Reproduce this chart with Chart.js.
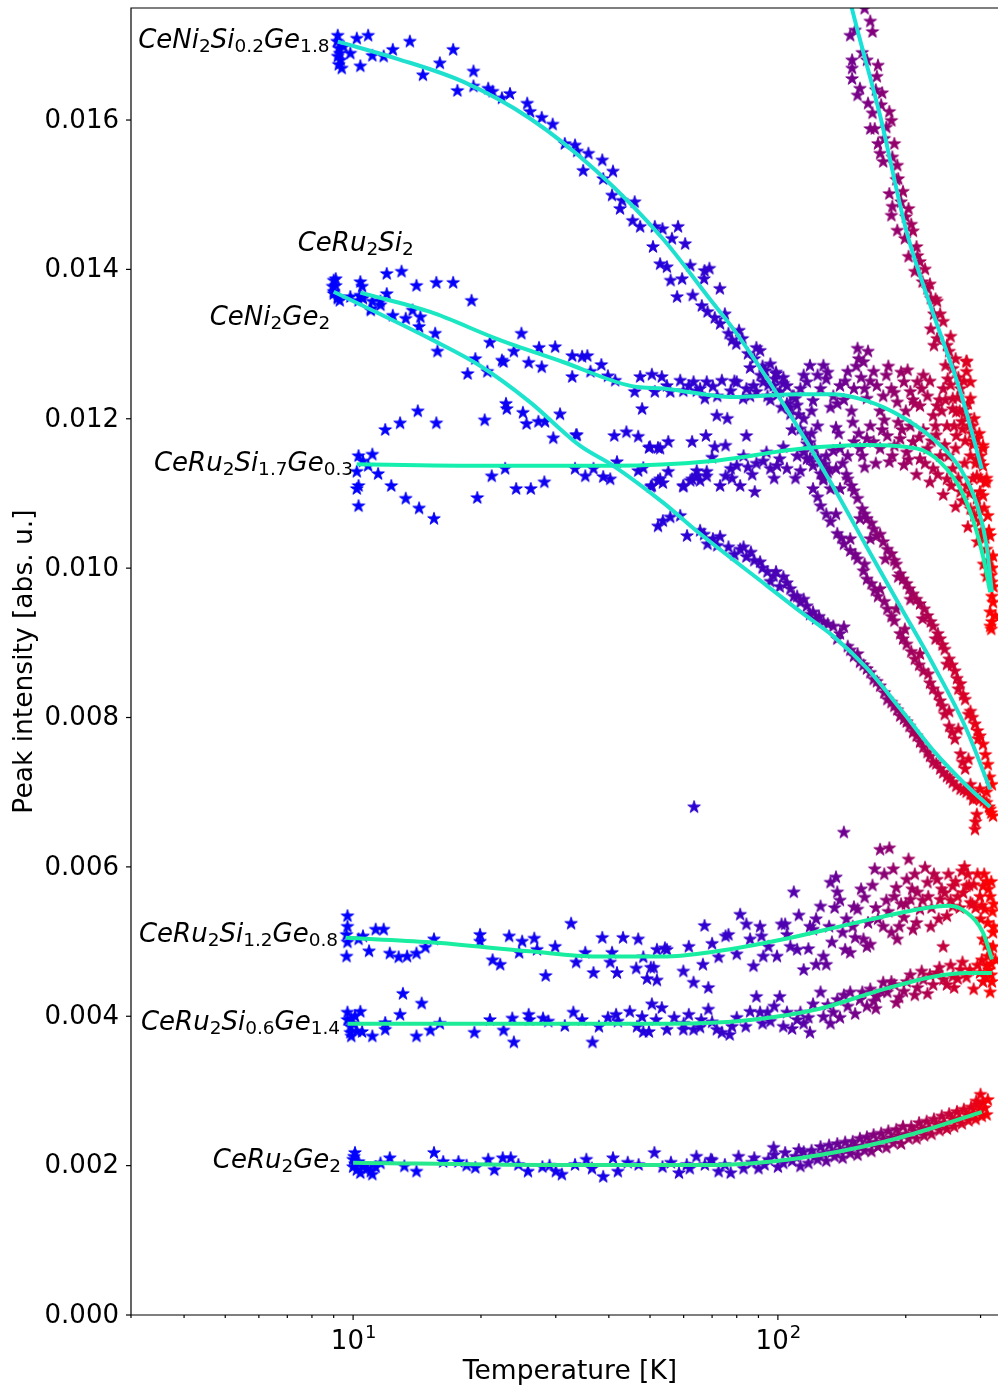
<!DOCTYPE html>
<html>
<head>
<meta charset="utf-8">
<script src="https://cdn.jsdelivr.net/npm/chart.js@4.4.0/dist/chart.umd.min.js"></script>
<style>
  html, body { margin: 0; padding: 0; background: #fff; overflow: hidden; }
  #wrap { position: relative; width: 1020px; height: 1389px; }
</style>
</head>
<body>
<div id="wrap"><canvas id="chart" width="1020" height="1389"></canvas></div>
<script>
// ---- measured peak intensity vs temperature, [T (K), intensity (abs. u.)] ----
const ceNi2Si02Ge18 = [
  [9.2,0.01713],[9.17,0.01705],[9.25,0.01696],[9.3,0.01689],[9.2,0.01685],[9.35,0.0168],[9.25,0.01674],[9.4,0.01669],
  [9.5,0.01698],[9.85,0.01689],[10.2,0.01709],[10.4,0.01672],[10.85,0.01713],[11.1,0.01686],[11.8,0.01685],[12.4,0.01694],
  [13.6,0.01705],[14.6,0.0166],[16.0,0.01676],[17.2,0.01694],[17.6,0.01639],[19.2,0.01665],[19.2,0.01645],[20.8,0.01642],
  [21.3,0.01638],[22.4,0.01629],[23.4,0.01635],[25.7,0.01622],[26.1,0.01611],[27.8,0.01603],[29.5,0.01594],[31.5,0.01568],
  [33.3,0.01566],[33.7,0.01558],[35.8,0.01555],[38.6,0.01546],[34.8,0.01532],[40.9,0.01531],[38.8,0.01521],[40.7,0.01499],
  [43,0.01492],[42.5,0.01481],[46,0.0149],[45.5,0.01465],[47.4,0.01457],[51.3,0.01457],[53.5,0.01454],[58.2,0.01457],
  [56.3,0.01441],[60.5,0.01434],[50.8,0.0143],[52.8,0.01407],[54.8,0.01403],[62.2,0.01405],[55.9,0.01385],[59.5,0.01387],
  [57.9,0.01363],[63,0.01365],[67.2,0.01398],[66.2,0.01351],[68.3,0.01343],[69,0.01401],[73,0.01374],[67,0.01387],
  [73.1,0.01327],[76.5,0.01314],[79.8,0.013],[82.5,0.01307],[85,0.01287],[88,0.0128],[90.8,0.01291],[93.4,0.01264],
  [96,0.01273],[98.5,0.01253],[100,0.01233],[103,0.01247],[105,0.0122],[107,0.01206],[110,0.01227],[113,0.01186],
  [115,0.012],[117,0.01166],[119,0.01146],[122,0.0116],[126,0.01126],[129,0.01139],[133,0.01106],[137,0.01133],[140,0.01106],
  [71,0.01335],[75,0.0134],[78,0.01305],[81,0.01318],[86,0.01268],[89,0.01295],[92,0.0127],[95,0.01245],[99,0.01262],
  [102,0.01215],[108,0.0123],[112,0.01205],[116,0.01178],[120,0.0118],[124,0.01148],[128,0.0112],[131,0.01128],
  [121,0.01106],[126,0.01083],[133,0.01062],[138,0.01046],[143,0.01032],[148,0.01023],[154,0.01012],[159,0.00996],
  [166,0.00979],[172,0.00962],[181,0.00945],[188,0.00929],[194,0.00912],[201,0.00898],[210,0.00878],[220,0.00862],
  [232,0.00838],[241,0.00822],[247,0.00804],[253,0.00788],[261,0.00771],[269,0.00751],[276,0.00731],[284,0.0071],
  [288,0.0069],[294,0.0067],[291,0.0065],[137,0.01072],[148,0.01039],[160,0.01005],[174,0.00972],[190,0.00945],
  [199,0.00918],[216,0.00885],[226,0.00858],[238,0.00831],[253,0.00808],[266,0.00784],[281,0.00744],[299,0.00704],
  [124,0.01095],[130,0.01072],[141,0.0104],[152,0.01018],[162,0.00985],[169,0.0097],[178,0.00955],[185,0.00935],
  [197,0.00905],[206,0.00888],[215,0.0087],[228,0.00846],[244,0.00815],[257,0.0078],[272,0.0074],[286,0.007],[292,0.0066],
  [146,0.01119],[151,0.01103],[154,0.01093],[158,0.01079],[162,0.01066],[168,0.01052],[171,0.01043],[177,0.01035],
  [185,0.01019],[190,0.01005],[194,0.00992],[201,0.00979],[208,0.00965],[216,0.00952],[225,0.00936],[232,0.00922],
  [241,0.00905],[247,0.00891],[253,0.00878],[261,0.00862],[269,0.00845],[276,0.00824],[284,0.00808],[291,0.00791],
  [299,0.00775],[304,0.00764],[312,0.00737],[319,0.0071],[156,0.01066],[165,0.01039],[179,0.01012],[192,0.00988],
  [205,0.00958],[219,0.00932],[235,0.00905],[250,0.00871],[266,0.00838],[281,0.00804],[296,0.00771],
  [149,0.0111],[160,0.01072],[166,0.0106],[174,0.01045],[181,0.01025],[188,0.0101],[197,0.00985],[204,0.00972],
  [212,0.00958],[221,0.00945],[229,0.00928],[238,0.00912],[244,0.00897],[257,0.0087],[264,0.00852],[273,0.0083],
  [287,0.008],[295,0.00782],[308,0.0075],[315,0.0072]
];
const ceNi2Si02Ge18Fit = [
  [9.2,0.01705],[12.7,0.01682],[18.2,0.01651],[26.1,0.01602],[37.5,0.01531],[53.6,0.01441],[69,0.01361],
  [78.6,0.0132],[103,0.0122],[135,0.01109],[162,0.01028],[194,0.00949],[232,0.00871],[278,0.00784],[316,0.00704]
];

// sample whose low-temperature branch lies above the plotted range
const sample8 = [
  [160,0.01749],[165,0.01732],[167,0.01718],[148,0.01713],[149.5,0.0168],[149.5,0.01669],[172,0.01673],[171,0.01658],
  [149.5,0.01655],[156,0.01642],[154,0.01633],[176,0.01636],[163,0.01622],[167,0.01609],[183,0.01611],[185,0.01599],
  [165,0.01588],[169,0.01588],[172,0.01568],[188,0.01568],[174,0.01555],[177,0.01544],[191,0.01539],[192,0.01521],
  [183,0.01501],[197,0.01504],[186,0.01484],[203,0.01481],[185,0.01472],[191,0.01452],[199,0.01441],[208,0.01451],
  [203,0.01417],[213,0.01418],[210,0.01397],[219,0.01383],[225,0.01374],[229,0.01361],[237,0.01357],[233,0.0134],
  [241,0.0134],[229,0.0132],[237,0.01307],[233,0.01298],[250,0.01298],[253,0.0129],[248,0.01271],[258,0.01267],
  [278,0.01277],[278,0.01263],[284,0.01249],[251,0.01253],[269,0.0124],[284,0.01227],[258,0.01227],[278,0.01204],
  [263,0.01209],[287,0.0119],[272,0.01186],[294,0.01173],[304,0.0116],[294,0.01146],[304,0.01137],[307,0.01115],
  [299,0.01102],[304,0.01164],
  [152,0.0172],[158,0.0169],[162,0.0168],[170,0.0164],[175,0.0162],[180,0.0159],[178,0.01575],[186,0.0155],
  [190,0.0152],[195,0.0149],[200,0.0147],[206,0.0146],[212,0.0143],[216,0.0141],[222,0.014],[228,0.0138],
  [235,0.0136],[245,0.0133],[255,0.0131],[262,0.0128],[266,0.01255],[274,0.0125],[280,0.0122],[290,0.012],
  [298,0.0118],[288,0.01165],[300,0.0115],[310,0.0112]
];
const sample8Fit = [
  [140,0.0182],[149,0.01752],[174,0.01606],[201,0.0145],[233,0.01338],[269,0.01236],[302,0.01133]
];

const ceRu2Si2 = [
  [9.1,0.01387],[9.1,0.01378],[9.0,0.0137],[9.2,0.01363],[9.3,0.01358],[10.4,0.01383],[10.5,0.01377],[10.4,0.01365],
  [10.55,0.01361],[11.1,0.01357],[11.0,0.01347],[11.6,0.01357],[12.0,0.01367],[12.0,0.01394],[13.0,0.01397],[14.1,0.01378],
  [15.7,0.01382],[17.2,0.01382],[19.0,0.01358],[21.0,0.01302],[24.9,0.01314],[23.9,0.0129],[22.6,0.01276],[25.9,0.01275],
  [27.8,0.01269],[27.4,0.01295],[29.9,0.01296],[32.8,0.01284],[32.8,0.01256],[34.6,0.01283],[35.6,0.01284],[36.2,0.01263],
  [38.4,0.01272],[39.8,0.01257],[41.4,0.01251],[46,0.01236],[47.4,0.01256],[47.9,0.01213],[50.5,0.01259],[51.3,0.01236],
  [53.3,0.01256],[54.8,0.01244],[55.8,0.01236],[58.9,0.01251],[59.9,0.01237],[61.7,0.01244],[63.3,0.01249],[64.4,0.01237],
  [67.3,0.01227],[65.6,0.0124],[68,0.01249],[70.3,0.01243],[71.8,0.01204],[73.8,0.01251],[76,0.012],[77.4,0.01237],
  [80,0.01249],[82.8,0.01227],[84.3,0.0124],[87.6,0.01244],[89,0.01236],[92.4,0.01249],[94.5,0.0123],[97.7,0.01244],
  [101,0.01236],[105,0.01244],[109,0.0123],[113,0.0124],[117,0.01249],[121,0.01224],[126,0.0124],[119,0.01271],
  [128,0.01271],[130,0.01253],[135,0.0123],[140,0.01244],[146,0.01263],[151,0.0124],[154,0.01294],[155,0.0128],
  [159,0.01276],[162,0.01227],[168,0.01263],[171,0.01244],[177,0.0123],[185,0.0124],[191,0.01222],[198,0.01249],
  [205,0.01236],[213,0.01249],[216,0.01217],[225,0.0123],[232,0.01204],[237,0.01217],[245,0.0124],[250,0.0119],
  [258,0.01213],[263,0.01177],[271,0.01196],[278,0.01276],[284,0.0115],[289,0.01169],[294,0.01123],[299,0.01142],
  [304,0.01097],[310,0.01115],[312,0.0107],[316,0.01043],[321,0.01016],[310,0.00989],[319,0.00962],[325,0.00936],
  [316,0.00922],[318,0.00918],[103,0.01255],[111,0.01218],[124,0.01258],[133,0.01215],[143,0.01225],[157,0.01255],
  [165,0.0125],[180,0.01258],[195,0.01262],[208,0.01225],[220,0.01258],[240,0.01225],[255,0.01245],[265,0.01228],
  [275,0.01212],[282,0.0119],
  [72,0.0123],[79,0.0125],[86,0.0123],[91,0.01258],[96,0.01225],[99,0.0126],[107,0.01215],[115,0.01258],[120,0.0121],
  [131,0.01262],[138,0.0122],[144,0.0125],[149,0.0121],[153,0.0127],[160,0.0124],[163,0.0129],[174,0.0121],[182,0.0127],
  [188,0.01235],[200,0.0121],[202,0.01265],[210,0.0122],[218,0.0124],[228,0.0125],[235,0.0119],[243,0.0121],[248,0.01225],
  [260,0.0119],[268,0.0121],[276,0.0117],[286,0.0118],[292,0.0114],[300,0.0112],[306,0.0108],[314,0.0105],[320,0.01],
  [322,0.00975]
];
const ceRu2Si2Fit = [
  [10.4,0.01369],[15.2,0.01343],[21.8,0.01307],[31.2,0.01276],[45,0.01244],[54.8,0.0124],[78.6,0.01229],[113,0.01233],
  [135,0.01233],[162,0.01224],[194,0.01204],[232,0.01173],[269,0.01133],[295,0.01083],[310,0.0103],[319,0.00968]
];

const ceNi2Ge2 = [
  [9.0,0.01385],[8.95,0.01377],[9.0,0.01367],[9.2,0.01361],[9.85,0.01363],[10.3,0.01358],[10.45,0.01363],[11,0.01345],
  [11.6,0.01352],[12.4,0.01338],[13.3,0.01334],[13.8,0.01345],[14.4,0.01336],[14.3,0.01323],[15.6,0.01314],[15.8,0.0129],
  [18.6,0.0126],[19.4,0.0128],[20.7,0.01263],[22.4,0.01278],[22.9,0.0122],[23,0.01213],[25.1,0.01208],[25.6,0.01193],
  [27.3,0.01196],[28.3,0.01196],[29.6,0.01174],[30.7,0.01206],[33.6,0.01178],
  [52.2,0.01056],[53.6,0.01063],[55.8,0.01068],[58.9,0.0107],[61.1,0.01043],[65.6,0.0105],[68.3,0.01032],[70.3,0.01039],
  [73.1,0.01042],[76.5,0.01028],[81.5,0.01025],[84.3,0.01015],[86.4,0.01021],[90.8,0.01008],[94.5,0.00995],[97.7,0.00989],
  [103,0.00988],[101,0.00975],[107,0.00972],[109,0.00962],[113,0.00954],[117,0.00949],[121,0.00941],[123,0.00932],
  [128,0.00928],[135,0.00922],[143,0.00921],[138,0.00905],[146,0.00895],[151,0.00882],[156,0.00874],[162,0.00865],
  [168,0.00851],[174,0.00842],[181,0.00824],[188,0.00815],[194,0.00802],[201,0.00794],[208,0.0078],[216,0.00767],
  [225,0.00753],[232,0.0074],[241,0.00731],[250,0.00721],[258,0.00713],[269,0.00704],[278,0.007],[289,0.00694],
  [299,0.0069],[310,0.00686],[316,0.00677],[321,0.00668],[310,0.007],
  [67,0.01045],[72,0.0103],[79,0.01018],[83,0.01028],[88,0.0101],[92,0.01],[96,0.00982],[99,0.00995],[105,0.0098],
  [111,0.00962],[115,0.00958],[119,0.00938],[125,0.00935],[131,0.00925],[140,0.00912],[148,0.0089],[154,0.00885],
  [159,0.0087],[165,0.0086],[171,0.00848],[178,0.00833],[185,0.0082],[191,0.0081],[198,0.00798],[204,0.00788],
  [212,0.00775],[220,0.0076],[228,0.00748],[236,0.00738],[245,0.00726],[254,0.00718],[263,0.00708],[274,0.00703],
  [284,0.00697],[294,0.00692],[305,0.00688],[314,0.0068],[318,0.00672]
];
const ceNi2Ge2Fit = [
  [9.0,0.0137],[11.6,0.0134],[15.2,0.01307],[19.9,0.01271],[26,0.01223],[34.2,0.01164],[41,0.01137],[53.6,0.01088],
  [65.6,0.01046],[94.5,0.00976],[112.8,0.00942],[135,0.00909],[162,0.00866],[194,0.00812],[232,0.00756],[278,0.00709],
  [316,0.0068]
];

const ceRu2Si17Ge03 = [
  [10.3,0.0115],[10.55,0.01143],[11.1,0.01152],[10.85,0.01137],[10.2,0.01129],[10.3,0.0111],[10.2,0.01106],[10.3,0.01083],
  [11.45,0.01126],[12.3,0.0111],[13.3,0.01093],[14.3,0.0108],[15.5,0.01066],[11.9,0.01185],[12.9,0.01194],[14.2,0.0121],
  [15.7,0.01194],[19.6,0.01094],[20.4,0.01198],[21.2,0.01123],[22.8,0.01133],[24.2,0.01106],[26.2,0.01106],[28.2,0.01115],
  [33.5,0.01178],[33.3,0.01133],[35.2,0.01123],[36.8,0.01133],[38.8,0.01122],[40.3,0.01119],[41.2,0.01177],[41.8,0.01142],
  [44,0.01182],[46.9,0.01176],[46.9,0.0113],[48.2,0.01134],[49.7,0.01161],[50.2,0.01109],[52.2,0.01161],[52.8,0.01119],
  [53.6,0.01114],[55.2,0.01169],[55.2,0.01129],[59.9,0.01109],[62.8,0.01169],[62.8,0.01119],[64.4,0.0113],[65.6,0.01117],
  [67.7,0.01177],[68,0.01129],[50,0.01162],[52.8,0.0116],[71,0.01162],[75.3,0.01164],[84.3,0.01177],[50.5,0.0111],
  [52.2,0.01117],[59.9,0.0111],[62.2,0.01117],[64.4,0.01123],[68,0.01123],[73.1,0.0111],[75.3,0.01123],[77.4,0.01133],
  [80,0.01137],[81.5,0.0111],[85,0.01135],[88.2,0.01102],[89,0.0114],[92.4,0.01143],[96,0.01133],[99.5,0.01137],
  [101,0.01146],[105,0.01133],[111,0.0115],[115,0.01155],[117,0.01146],[121,0.01137],[126,0.01142],[130,0.0115],
  [135,0.01157],[140,0.0116],[146,0.0115],[151,0.01169],[156,0.0116],[162,0.01173],[168,0.01169],[174,0.0116],
  [181,0.01177],[188,0.01164],[194,0.01173],[201,0.01155],[208,0.01169],[216,0.01146],[225,0.0116],[232,0.01133],
  [241,0.0115],[250,0.01119],[258,0.01133],[269,0.01102],[278,0.0111],[284,0.01079],[294,0.01093],[299,0.01062],
  [304,0.01043],[310,0.01025],[312,0.00999],[319,0.00981],[321,0.00954],[316,0.00941],[319,0.00928],
  [108,0.01185],[124,0.0119],[137,0.01188],[150,0.01195],[165,0.0119],[178,0.01198],[192,0.01195],[205,0.0119],
  [220,0.01185],[236,0.01178],[247,0.01165],[262,0.0116],[275,0.0114],[288,0.0112],[110,0.0112],[128,0.01118],
  [145,0.01125],[160,0.01135],[183,0.01142],[198,0.01138],[212,0.01125],[228,0.01115],[245,0.01098],[262,0.01082],
  [280,0.01055],[295,0.01035],[305,0.01005],
  [70,0.01148],[78,0.0112],[83,0.0115],[87,0.01125],[94,0.01155],[98,0.0112],[103,0.01162],[113,0.0113],[119,0.01168],
  [132,0.01132],[139,0.0118],[142,0.0114],[155,0.0118],[158,0.0115],[170,0.0114],[176,0.01185],[186,0.0115],[196,0.01185],
  [203,0.01145],[215,0.01175],[222,0.0114],[230,0.0117],[238,0.01125],[252,0.0115],[256,0.0111],[266,0.0112],[272,0.0109],
  [283,0.011],[290,0.0107],[298,0.0108],[302,0.0105],[308,0.0104],[314,0.0101],[318,0.0099]
];
const ceRu2Si17Ge03Fit = [
  [10.2,0.01139],[22,0.01137],[41,0.01137],[69,0.01143],[113,0.0116],[162,0.01165],[213,0.0116],[241,0.01142],
  [269,0.01106],[289,0.01062],[304,0.01016],[316,0.00968]
];

const ceRu2Si12Ge08 = [
  [9.7,0.00534],[9.7,0.0052],[9.65,0.00509],[9.7,0.00499],[9.65,0.0048],[10.3,0.00503],[10.55,0.00507],[10.9,0.00487],
  [11.3,0.00516],[11.8,0.00516],[12.2,0.00484],[12.8,0.00479],[13.4,0.0048],[14.1,0.00484],[14.8,0.00492],[15.5,0.00503],
  [19.9,0.00509],[19.9,0.005],[21.3,0.00475],[22.2,0.00469],[23.3,0.00507],[24.6,0.00485],[25,0.005],[26.7,0.00504],
  [27.1,0.00489],[28.4,0.00454],[29.9,0.00493],[32.6,0.00524],[33.5,0.00472],[35.2,0.00485],[36.8,0.00458],[38.6,0.00505],
  [40.3,0.00472],[40.7,0.00485],[41.8,0.00458],[43.2,0.00505],[46.4,0.00464],[46.9,0.00503],[48.2,0.00479],[49.2,0.0045],
  [50.2,0.00465],[51.9,0.00448],[51.9,0.00489],[54.2,0.00491],[54.8,0.00489],[51,0.00465],[59.9,0.0046],[63.3,0.00445],
  [61.7,0.00493],[66.6,0.00469],[67.2,0.00521],[68.6,0.00438],[70,0.00497],[72.5,0.00479],[75.3,0.00507],[76.5,0.00509],
  [80,0.00483],[81.5,0.00536],[84.3,0.00523],[86,0.00503],[87.6,0.00467],[90.8,0.0052],[91.5,0.00507],[92.4,0.0048],
  [95,0.00493],[99.5,0.0048],[102,0.00523],[104,0.00523],[105,0.00509],[109,0.00566],[107,0.00493],[111,0.00489],
  [115,0.00462],[119,0.0052],[121,0.00516],[123,0.0053],[126,0.00547],[123,0.00469],[128,0.0048],[130,0.00469],
  [134,0.00499],[133,0.00579],[137,0.00586],[138,0.00566],[142,0.00512],[144,0.00489],[148,0.00485],[151,0.00546],
  [154,0.00543],[159,0.00503],[160,0.00559],[162,0.00493],[165,0.00496],[169,0.00597],[174,0.00623],[183,0.00625],
  [177,0.0052],[185,0.00512],[187,0.00597],[190,0.00572],[191,0.00503],[198,0.00532],[201,0.00583],[205,0.00556],
  [208,0.00516],[213,0.00566],[216,0.00543],[222,0.00599],[225,0.00579],[229,0.0052],[237,0.00583],[241,0.00556],
  [245,0.00493],[250,0.00534],[258,0.00574],[258,0.00547],[271,0.00594],[275,0.006],[278,0.00574],[284,0.00552],
  [289,0.00576],[299,0.0056],[304,0.00574],[307,0.00543],[312,0.00525],[316,0.0056],[321,0.00512],[304,0.00503],
  [316,0.00489],[325,0.00476],[63.5,0.0068],[143,0.00646],[150,0.0052],[170,0.00545],[180,0.00555],[195,0.0055],
  [210,0.0059],[230,0.00545],[247,0.00565],[265,0.0056],[280,0.0059],[292,0.00545],[300,0.0053],[310,0.0058],[320,0.0054],
  [112,0.00535],[118,0.0049],[132,0.0052],[136,0.00545],[140,0.00555],[145,0.0053],[152,0.00505],[157,0.0057],
  [163,0.00525],[167,0.00575],[172,0.0053],[178,0.0059],[182,0.0054],[188,0.0056],[193,0.0052],[200,0.0055],
  [203,0.0061],[207,0.0057],[212,0.00525],[219,0.00555],[226,0.0056],[233,0.0059],[239,0.0053],[243,0.0057],
  [252,0.0059],[255,0.00555],[262,0.0058],[268,0.00545],[273,0.00565],[282,0.00575],[287,0.0055],[295,0.0059],
  [302,0.00548],[306,0.0059],[313,0.0057],[318,0.0058],[322,0.0055],[310,0.00495],[318,0.0047],[322,0.0052]
];
const ceRu2Si12Ge08Fit = [
  [9.6,0.00505],[15.2,0.00499],[26,0.00487],[37.5,0.0048],[53.6,0.0048],[71.8,0.00487],[103,0.00503],[147,0.00523],
  [213,0.00543],[253,0.00548],[278,0.00539],[304,0.00512],[319,0.00476]
];

const ceRu2Si06Ge14 = [
  [9.7,0.00405],[9.7,0.00395],[9.85,0.00386],[9.85,0.00378],[9.9,0.00373],[10.4,0.00406],[10.5,0.00379],[11.1,0.00373],
  [11.9,0.00391],[11.9,0.00382],[12.9,0.00402],[13.1,0.0043],[14.1,0.00373],[14.5,0.00417],[15.2,0.00381],[16,0.0039],
  [19.3,0.00378],[21,0.00395],[22.6,0.00381],[23.7,0.00397],[23.9,0.00365],[25.9,0.00402],[26,0.00395],[28,0.00397],
  [28.8,0.00393],[31.5,0.00387],[33,0.00405],[34.6,0.00395],[36.6,0.00365],[37.9,0.00386],[39.8,0.00398],[41.6,0.00402],
  [42,0.00393],[44.8,0.00406],[46.6,0.00386],[47.9,0.00399],[48.2,0.00379],[49.7,0.00379],[50.5,0.00416],[51.7,0.00395],
  [53.3,0.00411],[57,0.00398],[54.8,0.00382],[59.9,0.00382],[61.7,0.00402],[63.3,0.00382],[65.6,0.00385],[68.6,0.00409],
  [71.8,0.00382],[73.8,0.00378],[77,0.00375],[78,0.00386],[86,0.00406],[89,0.00426],[84,0.00386],[90.8,0.00405],
  [94.5,0.00405],[96,0.00393],[101,0.00426],[105,0.00405],[103,0.00386],[111,0.00395],[119,0.00378],[121,0.00416],
  [126,0.00432],[128,0.00399],[135,0.00405],[138,0.00422],[146,0.00413],[148,0.00432],[156,0.00422],[162,0.00413],
  [165,0.00436],[171,0.00426],[177,0.00445],[181,0.00432],[188,0.00442],[198,0.00433],[201,0.00446],[213,0.00438],
  [220,0.00449],[232,0.00442],[237,0.00458],[245,0.00449],[258,0.00453],[269,0.00462],[278,0.00452],[289,0.00436],
  [299,0.00458],[310,0.00467],[316,0.00432],[304,0.00446],[319,0.00446],[312,0.0048],[321,0.00493],
  [115,0.0039],[140,0.00398],[170,0.0041],[190,0.00418],[225,0.0043],[260,0.00438],
  [10,0.0039],[10.1,0.004],[10.2,0.0038],[9.9,0.00396],[60,0.0039],[66,0.00395],[70,0.00392],[80,0.00398],[92,0.0039],
  [98,0.00413],[108,0.00383],[113,0.00405],[118,0.00398],[131,0.00415],[133,0.0039],[143,0.00428],[152,0.00403],
  [158,0.00432],[168,0.0042],[175,0.00433],[185,0.00446],[193,0.00425],[205,0.00455],[210,0.00428],[218,0.0046],
  [228,0.00455],[240,0.00465],[250,0.00442],[255,0.00468],[265,0.0045],[272,0.00472],[283,0.00462],[295,0.00468],
  [302,0.00475],[308,0.00452],[314,0.00462],[318,0.00455]
];
const ceRu2Si06Ge14Fit = [
  [9.7,0.0039],[55.8,0.0039],[86,0.00395],[123,0.00409],[177,0.00436],[232,0.00453],[278,0.00458],[319,0.00458]
];

const ceRu2Ge2 = [
  [10.1,0.00217],[10,0.00208],[10,0.00198],[10.2,0.00194],[10.55,0.00198],[11,0.00192],[11.3,0.00198],[11.1,0.00188],
  [12.2,0.0021],[14.1,0.00192],[15.5,0.00217],[16.3,0.00205],[17.7,0.00205],[19.4,0.00197],[20.8,0.00208],[21.5,0.00194],
  [22.5,0.0021],[23.5,0.0021],[25.8,0.00192],[27.9,0.00198],[30,0.00192],[31,0.00188],[33.3,0.00201],[35.4,0.00208],
  [38.8,0.00185],[40.9,0.0021],[42,0.00192],[44.3,0.00204],[51.2,0.00217],[56,0.00204],[58.5,0.0019],[64.3,0.00212],
  [67.3,0.00201],[72.5,0.00192],[77.4,0.0019],[80.8,0.00212],[86.8,0.00204],[97.7,0.00224],[104,0.00217],[112,0.00221],
  [90,0.00196],[95,0.00208],[100,0.00198],[108,0.00206],[115,0.00218],[118,0.00203],[122,0.00212],[126,0.00225],
  [130,0.00206],[134,0.00218],[138,0.00229],[142,0.0021],[146,0.00222],[150,0.00232],[154,0.00214],[158,0.00226],
  [162,0.00238],[166,0.00219],[170,0.00231],[175,0.00243],[180,0.00224],[185,0.00237],[190,0.00248],[195,0.00229],
  [200,0.00242],[206,0.00252],[212,0.00236],[218,0.00249],[224,0.00259],[230,0.00242],[236,0.00255],[243,0.00266],
  [250,0.00249],[257,0.00262],[264,0.00272],[271,0.00256],[278,0.00268],[285,0.00278],[292,0.00262],[298,0.00274],
  [304,0.00284],[310,0.00268],[293,0.00286],
  [10.05,0.00212],[10.1,0.00202],[10.3,0.00205],[10.4,0.0019],[10.8,0.00196],[11.6,0.00203],[13.2,0.00199],[18.5,0.002],
  [24.5,0.00201],[29,0.002],[36.5,0.00196],[47,0.00201],[53.5,0.00198],[61,0.00201],[69.5,0.00208],[75,0.00201],
  [62,0.00196],[70,0.00207],[83,0.00196],[88,0.0021],[93,0.00201],[98,0.00214],[103,0.00203],[110,0.00212],[113,0.00199],
  [120,0.0022],[124,0.00208],[128,0.00216],[132,0.00227],[136,0.00212],[140,0.0022],[144,0.00231],[148,0.00216],
  [152,0.00225],[156,0.00236],[160,0.0022],[164,0.0023],[168,0.00241],[172,0.00225],[177,0.00235],[182,0.00246],
  [187,0.0023],[192,0.0024],[197,0.00252],[203,0.00236],[209,0.00246],[215,0.00257],[221,0.0024],[227,0.0025],
  [233,0.00262],[240,0.00247],[246,0.00257],[253,0.00269],[260,0.00252],[267,0.00263],[274,0.00275],[281,0.0026],
  [288,0.0027],[295,0.00281],[302,0.00266],[307,0.00277],[312,0.00288],[300,0.00295]
];
const ceRu2Ge2Fit = [
  [10,0.00204],[27.9,0.00201],[70.3,0.00201],[112,0.0021],[178,0.00232],[224,0.00248],[302,0.00272]
];

// axis ticks
const yTicks = [0, 0.002, 0.004, 0.006, 0.008, 0.010, 0.012, 0.014, 0.016];
const yTickLabels = ['0.000','0.002','0.004','0.006','0.008','0.010','0.012','0.014','0.016'];
const xMajorTicks = [10, 100];
const xMajorExponents = ['1', '2'];
const xMinorTicks = [3,4,5,6,7,8,9,20,30,40,50,60,70,80,90,200,300];

// sample names placed beside their curves: [formula, T, intensity, alignment]
const sampleNames = [
  ['CeNi_{2}Si_{0.2}Ge_{1.8}', 8.8, 0.01696, 'right'],
  ['CeRu_{2}Si_{2}', 10.14, 0.01425, 'center'],
  ['CeNi_{2}Ge_{2}', 8.83, 0.01326, 'right'],
  ['CeRu_{2}Si_{1.7}Ge_{0.3}', 10.0, 0.0113, 'right'],
  ['CeRu_{2}Si_{1.2}Ge_{0.8}', 9.22, 0.0050, 'right'],
  ['CeRu_{2}Si_{0.6}Ge_{1.4}', 9.32, 0.00382, 'right'],
  ['CeRu_{2}Ge_{2}', 9.37, 0.00197, 'right']
];

// ---- styling ----
const FONT = '"DejaVu Sans", "Liberation Sans", sans-serif';
const COLOR_T_MIN = 9, COLOR_T_MAX = 320;
const STAR_R = 6.6;

function toXY(arr) { return arr.map(p => ({ x: p[0], y: p[1] })); }

// blue -> red by temperature
function tempColor(t) {
  let f = (t - COLOR_T_MIN) / (COLOR_T_MAX - COLOR_T_MIN);
  f = Math.max(0, Math.min(1, f));
  f = Math.round(f * 120) / 120;
  return 'rgb(' + Math.round(255 * f) + ',0,' + Math.round(255 * (1 - f)) + ')';
}

const starCache = {};
function starSprite(color) {
  if (starCache[color]) return starCache[color];
  const s = 18, c = document.createElement('canvas');
  c.width = s; c.height = s;
  const g = c.getContext('2d');
  g.beginPath();
  for (let i = 0; i < 10; i++) {
    const a = -Math.PI / 2 + i * Math.PI / 5;
    const r = i % 2 ? STAR_R * 0.382 : STAR_R;
    const px = s / 2 + r * Math.cos(a), py = s / 2 + r * Math.sin(a);
    if (i === 0) g.moveTo(px, py); else g.lineTo(px, py);
  }
  g.closePath();
  g.fillStyle = color; g.fill();
  g.strokeStyle = color; g.lineWidth = 1; g.lineJoin = 'miter'; g.stroke();
  starCache[color] = c;
  return c;
}

function scatterSet(arr) {
  return {
    type: 'scatter',
    data: toXY(arr),
    order: 1,
    clip: 0,
    pointRadius: 6,
    pointStyle: ctx => starSprite(tempColor(ctx.raw ? ctx.raw.x : COLOR_T_MIN))
  };
}
function fitSet(arr, color) {
  return {
    type: 'line',
    data: toXY(arr),
    order: 0,
    clip: 0,
    borderColor: color,
    borderWidth: 4,
    pointRadius: 0,
    fill: false,
    cubicInterpolationMode: 'monotone',
    borderCapStyle: 'butt'
  };
}

function drawFormula(ctx, src, x, y, align) {
  const parts = [];
  const re = /_\{([^}]*)\}/g;
  let last = 0, m;
  while ((m = re.exec(src))) {
    if (m.index > last) parts.push({ t: src.slice(last, m.index), sub: false });
    parts.push({ t: m[1], sub: true });
    last = re.lastIndex;
  }
  if (last < src.length) parts.push({ t: src.slice(last), sub: false });
  const mainFont = 'italic 26px ' + FONT, subFont = '18.5px ' + FONT;
  let w = 0;
  parts.forEach(p => { ctx.font = p.sub ? subFont : mainFont; p.w = ctx.measureText(p.t).width; w += p.w; });
  let cx = align === 'right' ? x - w : align === 'center' ? x - w / 2 : x;
  ctx.textAlign = 'left';
  ctx.textBaseline = 'alphabetic';
  parts.forEach(p => {
    ctx.font = p.sub ? subFont : mainFont;
    ctx.fillText(p.t, cx, p.sub ? y + 4 : y);
    cx += p.w;
  });
}

const frame = {
  id: 'frame',
  afterDatasetsDraw(chart) {
    const { ctx, chartArea: a, scales: { x, y } } = chart;
    ctx.save();
    ctx.fillStyle = '#000';
    ctx.strokeStyle = '#000';
    ctx.lineWidth = 1.2;
    ctx.beginPath();
    ctx.rect(a.left, a.top, a.right - a.left, a.bottom - a.top);
    ctx.stroke();

    // y ticks + labels
    ctx.font = '26px ' + FONT;
    ctx.textAlign = 'right';
    ctx.textBaseline = 'middle';
    yTicks.forEach((v, i) => {
      const py = y.getPixelForValue(v);
      ctx.beginPath(); ctx.moveTo(a.left, py); ctx.lineTo(a.left - 5, py); ctx.stroke();
      ctx.fillText(yTickLabels[i], a.left - 12, py + 1);
    });

    // x ticks
    xMinorTicks.forEach(v => {
      const px = x.getPixelForValue(v);
      ctx.beginPath(); ctx.moveTo(px, a.bottom); ctx.lineTo(px, a.bottom + 3); ctx.stroke();
    });
    xMajorTicks.forEach((v, i) => {
      const px = x.getPixelForValue(v);
      ctx.beginPath(); ctx.moveTo(px, a.bottom); ctx.lineTo(px, a.bottom + 5); ctx.stroke();
      ctx.textAlign = 'left'; ctx.textBaseline = 'alphabetic';
      ctx.font = '26px ' + FONT;
      const wb = ctx.measureText('10').width;
      ctx.font = '18px ' + FONT;
      const we = ctx.measureText(xMajorExponents[i]).width;
      const x0 = px - (wb + we) / 2;
      const base = a.bottom + 34;
      ctx.font = '26px ' + FONT;
      ctx.fillText('10', x0, base);
      ctx.font = '18px ' + FONT;
      ctx.fillText(xMajorExponents[i], x0 + wb + 1, base - 11);
    });

    // axis titles
    ctx.font = '26.5px ' + FONT;
    ctx.textAlign = 'center';
    ctx.textBaseline = 'alphabetic';
    ctx.fillText('Temperature [K]', (a.left + a.right) / 2, a.bottom + 64);
    ctx.save();
    ctx.translate(32, (a.top + a.bottom) / 2);
    ctx.rotate(-Math.PI / 2);
    ctx.fillText('Peak intensity [abs. u.]', 0, 0);
    ctx.restore();

    // sample names
    ctx.fillStyle = '#000';
    sampleNames.forEach(n => {
      drawFormula(ctx, n[0], x.getPixelForValue(n[1]), y.getPixelForValue(n[2]), n[3]);
    });
    ctx.restore();
  }
};

new Chart(document.getElementById('chart'), {
  type: 'scatter',
  data: {
    datasets: [
      scatterSet(ceRu2Ge2),
      scatterSet(ceRu2Si06Ge14),
      scatterSet(ceRu2Si12Ge08),
      scatterSet(ceNi2Ge2),
      scatterSet(ceNi2Si02Ge18),
      scatterSet(ceRu2Si17Ge03),
      scatterSet(ceRu2Si2),
      scatterSet(sample8),
      fitSet(ceNi2Si02Ge18Fit, '#1fe0cf'),
      fitSet(sample8Fit, '#16e2da'),
      fitSet(ceRu2Si2Fit, '#1be7c2'),
      fitSet(ceNi2Ge2Fit, '#1ee3cd'),
      fitSet(ceRu2Si17Ge03Fit, '#14efae'),
      fitSet(ceRu2Si12Ge08Fit, '#19ed9f'),
      fitSet(ceRu2Si06Ge14Fit, '#1deb98'),
      fitSet(ceRu2Ge2Fit, '#28e88e')
    ]
  },
  options: {
    responsive: false,
    animation: false,
    devicePixelRatio: 1,
    layout: { padding: { left: 131, top: 8, right: 11, bottom: 74 } },
    plugins: { legend: { display: false }, tooltip: { enabled: false } },
    events: [],
    scales: {
      x: { type: 'logarithmic', min: 3, max: 350, display: false },
      y: { type: 'linear', min: 0, max: 0.0175, display: false }
    }
  },
  plugins: [frame]
});
</script>
</body>
</html>
